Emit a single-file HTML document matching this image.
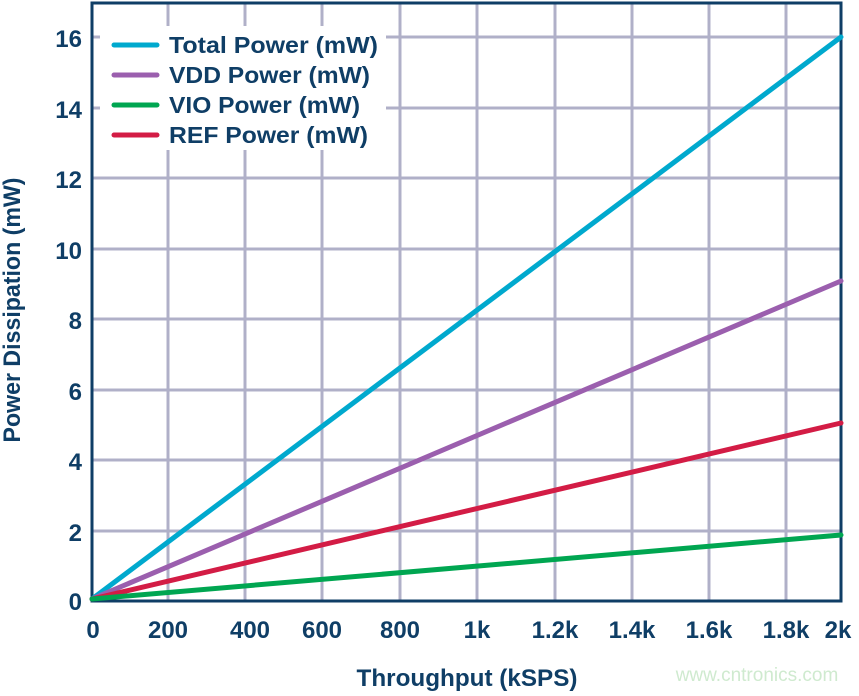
<!DOCTYPE html>
<html><head><style>body{margin:0;background:#fff}</style></head><body>
<svg width="859" height="691" xmlns="http://www.w3.org/2000/svg" font-family="Liberation Sans, sans-serif" font-weight="bold" fill="#0f3e66">
<g stroke="#b0b0c8" stroke-width="3">
<line x1="168" y1="3" x2="168" y2="601"/><line x1="245" y1="3" x2="245" y2="601"/><line x1="322" y1="3" x2="322" y2="601"/><line x1="400" y1="3" x2="400" y2="601"/><line x1="477" y1="3" x2="477" y2="601"/><line x1="555" y1="3" x2="555" y2="601"/><line x1="632" y1="3" x2="632" y2="601"/><line x1="709" y1="3" x2="709" y2="601"/><line x1="786" y1="3" x2="786" y2="601"/>
<line x1="92" y1="531" x2="841" y2="531"/><line x1="92" y1="460" x2="841" y2="460"/><line x1="92" y1="390" x2="841" y2="390"/><line x1="92" y1="319" x2="841" y2="319"/><line x1="92" y1="249" x2="841" y2="249"/><line x1="92" y1="178" x2="841" y2="178"/><line x1="92" y1="108" x2="841" y2="108"/><line x1="92" y1="37" x2="841" y2="37"/>
</g>
<rect x="100" y="26" width="286" height="124" fill="#fff"/>
<rect x="92" y="3" width="749" height="598" fill="none" stroke="#0f3e66" stroke-width="3"/>
<g stroke-width="5" stroke-linecap="round" fill="none">
<line x1="92" y1="599" x2="841" y2="37" stroke="#00a9ce"/>
<line x1="92" y1="599" x2="841" y2="281" stroke="#9b5fae"/>
<line x1="92" y1="599" x2="841" y2="423" stroke="#d31c45"/>
<line x1="92" y1="599" x2="841" y2="535" stroke="#00a651"/>
<line x1="114" y1="45" x2="157" y2="45" stroke="#00a9ce"/>
<line x1="114" y1="75" x2="157" y2="75" stroke="#9b5fae"/>
<line x1="114" y1="105" x2="157" y2="105" stroke="#00a651"/>
<line x1="114" y1="135" x2="157" y2="135" stroke="#d31c45"/>
</g>
<g font-size="23">
<text x="169" y="53" textLength="209" lengthAdjust="spacingAndGlyphs">Total Power (mW)</text>
<text x="169" y="83" textLength="201" lengthAdjust="spacingAndGlyphs">VDD Power (mW)</text>
<text x="169" y="113" textLength="191" lengthAdjust="spacingAndGlyphs">VIO Power (mW)</text>
<text x="169" y="143" textLength="199" lengthAdjust="spacingAndGlyphs">REF Power (mW)</text>
</g>
<g font-size="24" text-anchor="end">
<text x="82" y="610">0</text><text x="82" y="541">2</text><text x="82" y="470">4</text><text x="82" y="400">6</text><text x="82" y="329">8</text><text x="82" y="259">10</text><text x="82" y="188">12</text><text x="82" y="118">14</text><text x="82" y="47">16</text>
</g>
<g font-size="24" text-anchor="middle">
<text x="93" y="638">0</text><text x="168" y="638">200</text><text x="250" y="638">400</text><text x="322" y="638">600</text><text x="400" y="638">800</text><text x="477" y="638">1k</text><text x="555" y="638">1.2k</text><text x="632" y="638">1.4k</text><text x="709" y="638">1.6k</text><text x="786" y="638">1.8k</text><text x="838" y="638">2k</text>
<text x="467" y="686" textLength="221" lengthAdjust="spacingAndGlyphs">Throughput (kSPS)</text>
<text transform="translate(20,310) rotate(-90)" textLength="265" lengthAdjust="spacingAndGlyphs">Power Dissipation (mW)</text>
</g>
<text x="757" y="681" font-size="19" font-weight="normal" fill="#cfeacf" text-anchor="middle">www.cntronics.com</text>
</svg>
</body></html>
